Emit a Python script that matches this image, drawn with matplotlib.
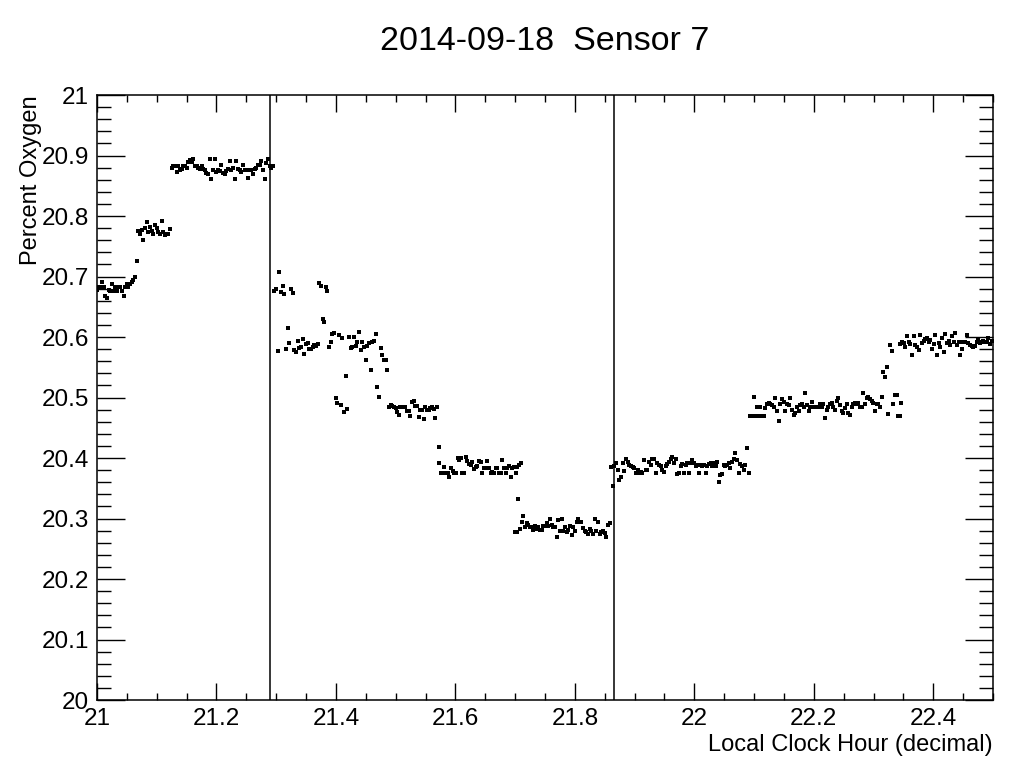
from matplotlib import pyplot as plt
from matplotlib.ticker import MultipleLocator, FuncFormatter
import numpy as np

plt.rcParams['font.family'] = ['Liberation Sans', 'DejaVu Sans']

# sensor sampled every 10 seconds, times in decimal hours
dt = 10 / 3600.0

# 21.000 - 21.294 : first plateau, step up, 20.88 plateau
start_1 = 21.000
seg_1 = [20.678, 20.683, 20.683, 20.691, 20.683, 20.668, 20.664, 20.678, 20.676, 20.687,
         20.676, 20.683, 20.676, 20.683, 20.683, 20.676, 20.668, 20.683, 20.687, 20.683,
         20.687, 20.691, 20.694, 20.700, 20.726,
         20.775, 20.771, 20.777, 20.760, 20.781, 20.790, 20.774, 20.782, 20.775, 20.770,
         20.785, 20.780, 20.773, 20.770, 20.792, 20.773, 20.769, 20.771, 20.770, 20.778,
         20.880, 20.883, 20.883, 20.873, 20.883, 20.876, 20.878, 20.882, 20.883, 20.880,
         20.890, 20.893, 20.889, 20.895, 20.882, 20.883, 20.879, 20.878, 20.883, 20.878,
         20.876, 20.871, 20.869, 20.895, 20.862, 20.876, 20.895, 20.872, 20.876, 20.874,
         20.884, 20.871, 20.869, 20.874, 20.878, 20.891, 20.876, 20.879, 20.861, 20.891,
         20.878, 20.876, 20.873, 20.885, 20.876, 20.876, 20.863, 20.876, 20.876, 20.869,
         20.878, 20.879, 20.884, 20.885, 20.891, 20.876, 20.861, 20.887, 20.895, 20.883,
         20.880, 20.882]

# 21.297 - 21.575 : after first marker, noisy descent to 20.48
start_2 = 21.297
seg_2 = [20.676, 20.679, 20.577, 20.707, 20.674, 20.684, 20.671, 20.580, 20.615, 20.590,
         20.679, 20.673,
         20.579, 20.575, 20.593, 20.582, 20.583, 20.597, 20.572, 20.589, 20.590, 20.580,
         20.580, 20.583, 20.587, 20.585, 20.589,
         20.689, 20.685, 20.630, 20.625, 20.683, 20.676,
         20.583, 20.592, 20.605, 20.607,
         20.500, 20.491, 20.603, 20.488, 20.598, 20.476, 20.536, 20.481,
         20.600, 20.582, 20.583, 20.600, 20.585, 20.592, 20.608, 20.579, 20.592, 20.583,
         20.562, 20.585, 20.590, 20.545, 20.592, 20.593, 20.605,
         20.517, 20.501, 20.582, 20.570, 20.562, 20.562, 20.545,
         20.485, 20.488, 20.486, 20.485, 20.483, 20.476, 20.471, 20.485, 20.485, 20.485,
         20.485, 20.478, 20.478, 20.469, 20.492, 20.494, 20.486, 20.486, 20.467, 20.480,
         20.479, 20.464, 20.484, 20.480, 20.480, 20.482, 20.484, 20.481, 20.466, 20.484,
         20.418]

# 21.573 - 21.709 : 20.38 plateau
start_3 = 21.573
seg_3 = [20.391, 20.376, 20.376, 20.385, 20.376, 20.376, 20.369, 20.383, 20.379, 20.376,
         20.376, 20.400, 20.397, 20.400, 20.376, 20.376, 20.401, 20.395, 20.390, 20.388,
         20.394, 20.382, 20.385, 20.386, 20.395, 20.394, 20.376, 20.383, 20.383, 20.395,
         20.383, 20.376, 20.377, 20.376, 20.383, 20.383, 20.376, 20.376, 20.397, 20.383,
         20.376, 20.383, 20.386, 20.369, 20.383, 20.385, 20.376, 20.385, 20.388, 20.391]

# 21.700 - 21.864 : 20.28 plateau, lowest level
start_4 = 21.700
seg_4 = [20.277, 20.277, 20.332,
         20.282, 20.295, 20.304, 20.286, 20.293, 20.289, 20.286, 20.286, 20.281, 20.288,
         20.282, 20.286, 20.281, 20.281, 20.287, 20.288, 20.293, 20.287, 20.300, 20.289,
         20.286, 20.286, 20.270, 20.298, 20.279, 20.300, 20.279, 20.286, 20.277, 20.281,
         20.287, 20.273, 20.286, 20.280, 20.295, 20.300, 20.295, 20.295, 20.284, 20.280,
         20.277, 20.275, 20.282, 20.279, 20.275, 20.300, 20.280, 20.295, 20.275, 20.277,
         20.280, 20.276, 20.270, 20.289, 20.293,
         20.385, 20.353]

# 21.866 - 22.091 : after second marker, back to 20.38
start_5 = 21.866
seg_5 = [20.386, 20.391, 20.381, 20.364, 20.368, 20.392, 20.379, 20.399, 20.394, 20.388,
         20.387, 20.385, 20.383, 20.376, 20.381, 20.376, 20.377, 20.376, 20.396, 20.380,
         20.381, 20.394, 20.388, 20.399, 20.399, 20.376, 20.391, 20.388, 20.386, 20.380,
         20.377, 20.386, 20.390, 20.394, 20.399, 20.401, 20.392, 20.399, 20.374, 20.375,
         20.386, 20.390, 20.376, 20.388, 20.391, 20.376, 20.392, 20.396, 20.392, 20.386,
         20.388, 20.376, 20.388, 20.386, 20.388, 20.376, 20.387, 20.390, 20.392, 20.386,
         20.391, 20.387, 20.394, 20.361, 20.372, 20.374, 20.388, 20.387, 20.388, 20.391,
         20.383, 20.394, 20.399, 20.408, 20.396, 20.376, 20.390, 20.386, 20.380, 20.388,
         20.416, 20.376]

# 22.094 - 22.344 : 20.48 plateau
start_6 = 22.094
seg_6 = [20.469, 20.469, 20.501, 20.469, 20.485, 20.469, 20.485, 20.469, 20.469,
         20.482, 20.489, 20.491, 20.490, 20.488, 20.485, 20.500, 20.477, 20.462, 20.490,
         20.497, 20.493, 20.477, 20.490, 20.488, 20.499, 20.480, 20.471, 20.474, 20.485,
         20.477, 20.488, 20.489, 20.485, 20.507, 20.488, 20.477, 20.485, 20.493, 20.485,
         20.484, 20.485, 20.485, 20.489, 20.484, 20.489, 20.466, 20.480, 20.485, 20.489,
         20.491, 20.485, 20.480, 20.495, 20.499, 20.488, 20.477, 20.474, 20.482, 20.490,
         20.474, 20.471, 20.484, 20.489, 20.491, 20.490, 20.491, 20.484, 20.485, 20.507,
         20.490, 20.499, 20.501, 20.497, 20.495, 20.491, 20.477, 20.489, 20.490, 20.484,
         20.501, 20.542, 20.534, 20.551, 20.473, 20.587, 20.577, 20.490, 20.504, 20.504,
         20.469, 20.469, 20.491]

# 22.345 - 22.5 : 20.59 plateau
start_7 = 22.345
seg_7 = [20.588, 20.592, 20.590, 20.584, 20.601, 20.592, 20.588, 20.570, 20.601, 20.587,
         20.583, 20.579, 20.603, 20.590, 20.594, 20.596, 20.598, 20.592, 20.595, 20.581,
         20.588, 20.603, 20.570, 20.590, 20.584, 20.598, 20.576, 20.605, 20.590, 20.594,
         20.587, 20.601, 20.591, 20.606, 20.587, 20.592, 20.570, 20.581, 20.592, 20.592,
         20.603, 20.590, 20.587, 20.585, 20.584, 20.585, 20.592, 20.595, 20.590, 20.592,
         20.594, 20.591, 20.592, 20.598, 20.588, 20.594]

# marker lines
markers = [21.29, 21.865]

starts = [start_1, start_2, start_3, start_4, start_5, start_6, start_7]
segs = [seg_1, seg_2, seg_3, seg_4, seg_5, seg_6, seg_7]

fig = plt.figure(figsize=(10.25, 7.79), dpi=100)
ax = fig.add_axes([0.0946, 0.1014, 0.8742, 0.7766])

for t0, vals in zip(starts, segs):
    t = t0 + dt * np.arange(len(vals))
    ax.plot(t, vals, 's', color='black', markersize=2.4, markeredgewidth=0)

for m in markers:
    ax.axvline(m, color='black', linewidth=1.1)

ax.set_xlim(21, 22.5)
ax.set_ylim(20, 21)

# ROOT style ticks: inside, on all four sides
ax.xaxis.set_major_locator(MultipleLocator(0.2))
ax.xaxis.set_minor_locator(MultipleLocator(0.05))
ax.yaxis.set_major_locator(MultipleLocator(0.1))
ax.yaxis.set_minor_locator(MultipleLocator(0.02))
fmt = FuncFormatter(lambda v, p: '%g' % round(v, 2))
ax.xaxis.set_major_formatter(fmt)
ax.yaxis.set_major_formatter(fmt)
ax.tick_params(which='both', direction='in', top=True, right=True, width=1.0,
               labelsize=17.5)
ax.tick_params(axis='x', which='major', length=12, pad=6)
ax.tick_params(axis='x', which='minor', length=5)
ax.tick_params(axis='y', which='major', length=20, pad=6)
ax.tick_params(axis='y', which='minor', length=10)
for s in ax.spines.values():
    s.set_linewidth(1.1)

ax.set_xlabel('Local Clock Hour (decimal)', size=17, loc='right')
ax.xaxis.set_label_coords(1.0, -0.057)
ax.set_ylabel('Percent Oxygen', size=17, loc='top')
ax.yaxis.set_label_coords(-0.061, 1.0)

fig.text(545 / 1025, 1 - 42 / 779, '2014-09-18  Sensor 7', size=24.5,
         ha='center', va='center')

fig.savefig('out.png', dpi=100)
